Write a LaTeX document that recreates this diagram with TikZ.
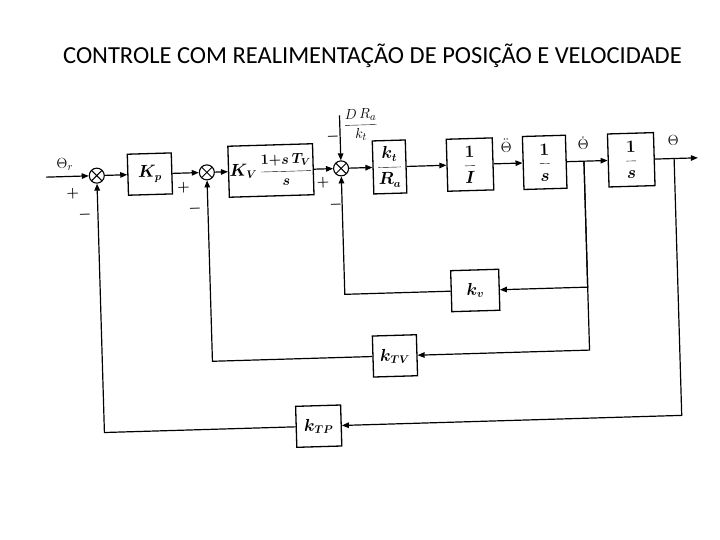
\documentclass[tikz,border=0pt]{standalone}
\usepackage{fontspec}
\newfontfamily\titlefont{Carlito}
\usetikzlibrary{arrows.meta}
\begin{document}
\begin{tikzpicture}[x=1pt,y=1pt,
  blk/.style={draw,line width=1.3pt,inner sep=1pt,font=\fontsize{16}{18}\selectfont\boldmath},
  sumj/.style={circle,draw,line width=1.1pt,minimum size=15pt,inner sep=0pt,
    path picture={\draw[line width=1pt] (path picture bounding box.north west)--(path picture bounding box.south east)
      (path picture bounding box.north east)--(path picture bounding box.south west);}},
  sig/.style={line width=1.2pt},
  arr/.style={sig,-{Triangle[length=7pt,width=5.5pt]}},
  lbl/.style={inner sep=0pt,font=\fontsize{15}{17}\selectfont},
  sgn/.style={inner sep=0pt,font=\fontsize{15}{16}\selectfont\boldmath}
]
\useasboundingbox (0,0) rectangle (720,-540);
\node[inner sep=0pt,font=\titlefont\fontsize{24.5}{28}\selectfont] (title) at (372.5,-56) {CONTROLE COM REALIMENTAÇÃO DE POSIÇÃO E VELOCIDADE};
\begin{scope}[rotate around={1.7:(390,-300)}, transform shape]
  \coordinate (in) at (50,-167);
  \node[sumj] (s1) at (100.6,-167) {};
  \node[blk,minimum width=44pt,minimum height=41pt] (kp) at (153.7,-167) {$K_p$};
  \node[sumj] (s2) at (210.7,-167) {};
  \node[blk,minimum width=70pt,minimum height=51pt] (kv) at (274.8,-167) {$K_V$\,{\fontsize{14}{16}\selectfont$\displaystyle\frac{1{+}s\,T_V}{s}$}};
  \node[sumj] (s3) at (345,-167) {};
  \node[blk,minimum width=33pt,minimum height=53pt] (ka) at (393.5,-167) {$\displaystyle\frac{k_t}{R_a}$};
  \node[blk,minimum width=46pt,minimum height=52pt] (ii) at (474,-167) {$\displaystyle\frac{1}{I}$};
  \node[blk,minimum width=43pt,minimum height=53pt] (i1) at (548.7,-167) {$\displaystyle\frac{1}{s}$};
  \coordinate (b1) at (588,-167);
  \node[blk,minimum width=46pt,minimum height=53pt] (i2) at (635.3,-167) {$\displaystyle\frac{1}{s}$};
  \coordinate (b2) at (678.2,-167);
  \coordinate (out) at (702,-167);
  \coordinate (dtop) at (345,-114);

  \node[blk,minimum width=48pt,minimum height=41pt] (fv) at (475.5,-293) {$k_v$};
  \node[blk,minimum width=44pt,minimum height=41pt] (ftv) at (393.3,-356) {$k_{TV}$};
  \node[blk,minimum width=45pt,minimum height=41pt] (ftp) at (315,-424) {$k_{TP}$};

  \draw[arr] (in) -- (s1);
  \draw[arr] (s1) -- (kp);
  \draw[arr] (kp) -- (s2);
  \draw[arr] (s2) -- (kv);
  \draw[arr] (kv) -- (s3);
  \draw[arr] (dtop) -- (s3);
  \draw[arr] (s3) -- (ka);
  \draw[arr] (ka) -- (ii);
  \draw[arr] (ii) -- (i1);
  \draw[arr] (i1) -- (i2);
  \draw[arr] (i2) -- (out);

  \draw[arr] (b1) |- (fv.east);
  \draw[arr] (fv.west) -| (s3.south);
  \draw[arr] (b1) |- (ftv.east);
  \draw[arr] (ftv.west) -| (s2.south);
  \draw[arr] (b2) |- (ftp.east);
  \draw[arr] (ftp.west) -| (s1.south);

  \node[lbl] (lthr) at (69,-155) {$\Theta_r$};
  \node[sgn] (p1) at (76,-184) {$+$};
  \node[sgn] (m1) at (87.5,-206) {$-$};
  \node[sgn] (p2) at (187,-182) {$+$};
  \node[sgn] (m2) at (197.7,-203) {$-$};
  \node[sgn] (p3) at (326.5,-181) {$+$};
  \node[sgn] (m3a) at (337.8,-135) {$-$};
  \node[sgn] (m3b) at (338.8,-203) {$-$};
  \node[lbl] (dist) at (366,-124) {$\displaystyle\frac{D\,R_a}{k_t}$};
  \node[lbl] (lacc) at (510.6,-149) {$\ddot\Theta$};
  \node[lbl] (lvel) at (587.7,-149) {$\dot\Theta$};
  \node[lbl] (lpos) at (677.8,-149) {$\Theta$};
\end{scope}
\end{tikzpicture}
\end{document}
